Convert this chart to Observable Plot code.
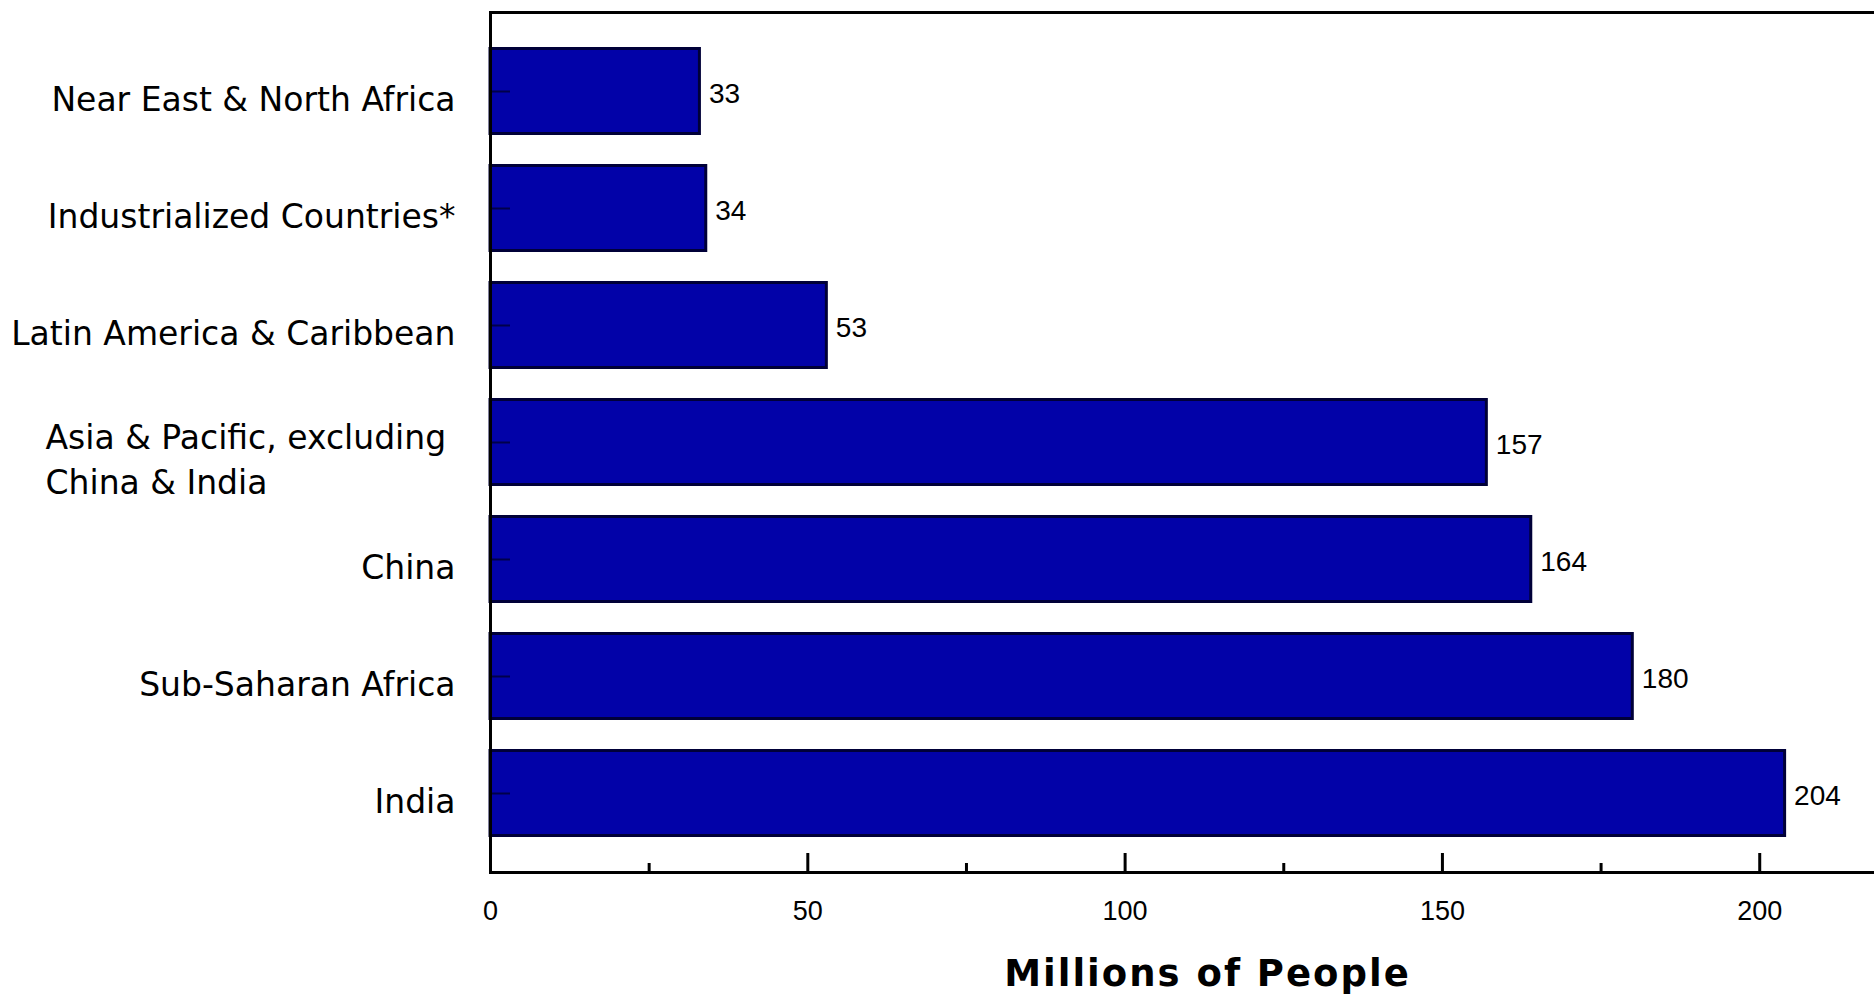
<!DOCTYPE html>
<html>
<head>
<meta charset="utf-8">
<script src="https://cdn.jsdelivr.net/npm/d3@7"></script>
<script src="https://cdn.jsdelivr.net/npm/@observablehq/plot@0.6"></script>
<style>
  html, body { margin: 0; padding: 0; background: #ffffff; }
  #chart svg { display: block; }
</style>
</head>
<body>
<div id="chart"></div>
<script>
// ---- data ----
const categories = [
  "Near East & North Africa",
  "Industrialized Countries*",
  "Latin America & Caribbean",
  "Asia & Pacific, excluding China & India",
  "China",
  "Sub-Saharan Africa",
  "India"
];
const values = [33, 34, 53, 157, 164, 180, 204];
const majorTicks = [0, 50, 100, 150, 200];
const minorTicks = [25, 75, 125, 175];
const xTitle = ["Millions of People"];
const wrappedCategory = "Asia & Pacific, excluding China & India";
const wrappedLines = ["Asia & Pacific, excluding", "China & India"];

const data = categories.map((c, i) => ({category: c, value: values[i]}));
const singleLabels = data.filter(d => d.category !== wrappedCategory);
const wrappedLabels = [{category: wrappedCategory, label: wrappedLines.join("\n")}];

const plot = Plot.plot({
  width: 1874,
  height: 1000,
  marginLeft: 490,
  marginRight: -2,
  marginTop: 12,
  marginBottom: 128,
  style: {background: "#ffffff", fontFamily: "Liberation Sans", color: "#000000"},
  x: {domain: [0, 218.4]},
  y: {domain: categories, paddingInner: 0.25, paddingOuter: 0.27},
  marks: [
    Plot.barX(data, {
      x: "value", y: "category",
      fill: "#0202A8", stroke: "#000038", strokeWidth: 3,
      insetTop: 1.5, insetBottom: 1.5
    }),
    Plot.axisY({tickSize: -20, tickFormat: () => "", stroke: "#00004a", strokeWidth: 2, label: null}),
    Plot.axisX({
      ticks: majorTicks, tickSize: -19, tickPadding: 47, strokeWidth: 3,
      fontSize: 27, fontFamily: "Liberation Sans", fill: "#000000", label: null
    }),
    Plot.axisX({ticks: minorTicks, tickSize: -9, tickFormat: () => "", strokeWidth: 3, label: null}),
    Plot.frame({stroke: "#000000", strokeWidth: 3}),
    Plot.text(singleLabels, {
      y: "category", text: "category", frameAnchor: "left", textAnchor: "end",
      dx: -35, dy: 9, fontSize: 33, fontFamily: "DejaVu Sans", fill: "#000000"
    }),
    Plot.text(wrappedLabels, {
      y: "category", text: "label", frameAnchor: "left", textAnchor: "start",
      dx: -445, dy: 15, lineHeight: 1.36, fontSize: 33, fontFamily: "DejaVu Sans", fill: "#000000"
    }),
    Plot.text(data, {
      x: "value", y: "category", text: "value", textAnchor: "start",
      dx: 9, dy: 3, fontSize: 28, fontFamily: "Liberation Sans", fill: "#000000"
    }),
    Plot.text(xTitle, {
      text: d => d, frameAnchor: "bottom", dx: 24, dy: 113,
      fontSize: 37, fontWeight: "bold", fontFamily: "DejaVu Sans", fill: "#000000"
    })
  ]
});

d3.select(plot).selectAll("text").filter(function() {
  return this.textContent === xTitle[0];
}).style("letter-spacing", "2px");

document.getElementById("chart").appendChild(plot);
</script>
</body>
</html>
